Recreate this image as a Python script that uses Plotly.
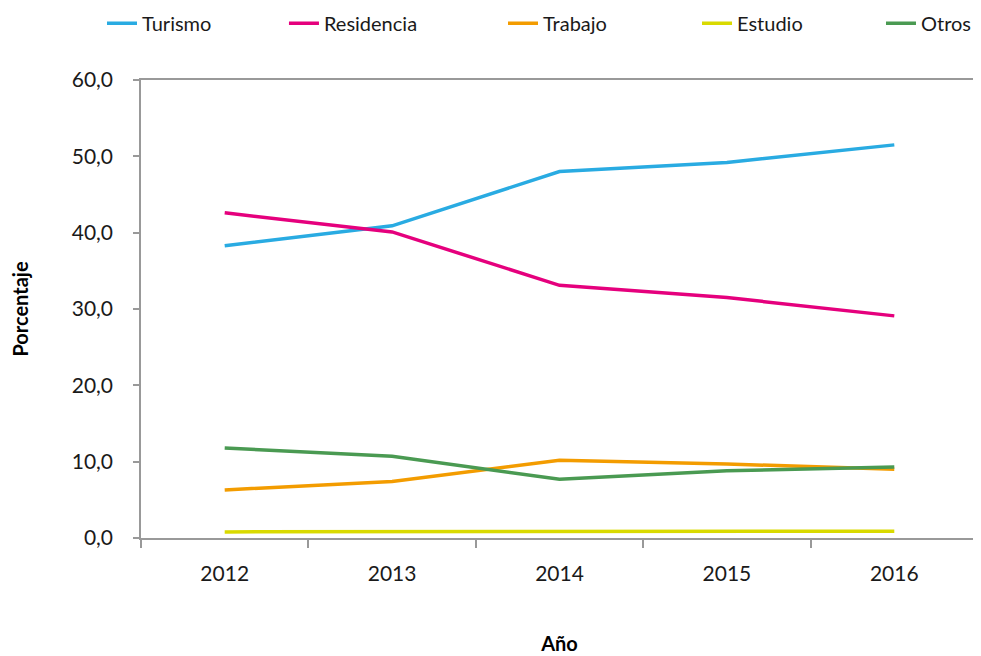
import plotly.graph_objects as go

years = ["2012", "2013", "2014", "2015", "2016"]
turismo = [38.3, 40.9, 48.0, 49.2, 51.5]
residencia = [42.6, 40.1, 33.1, 31.5, 29.1]
trabajo = [6.3, 7.4, 10.2, 9.7, 9.0]
estudio = [0.8, 0.8, 0.9, 0.9, 0.9]
otros = [11.8, 10.7, 7.7, 8.8, 9.3]

names = ["Turismo", "Residencia", "Trabajo", "Estudio", "Otros"]
series = [turismo, residencia, trabajo, estudio, otros]
colors = ["#29ABE2", "#E5007D", "#F39C00", "#D9DA00", "#4A9A52"]
legend_ids = ["legend", "legend2", "legend3", "legend4", "legend5"]
legend_x = [-0.0466, 0.1708, 0.4325, 0.6643, 0.8841]

FONT = "Lato, 'Open Sans', sans-serif"

fig = go.Figure()
for name, vals, col, lid in zip(names, series, colors, legend_ids):
    fig.add_trace(go.Scatter(
        x=years, y=vals, name=name, mode="lines",
        line=dict(color=col, width=3.5),
        legend=lid,
    ))

layout_legends = {}
for lid, lx in zip(legend_ids, legend_x):
    layout_legends[lid] = dict(
        x=lx, xanchor="left", y=1.124, yanchor="middle",
        orientation="h", bgcolor="rgba(0,0,0,0)",
        font=dict(family=FONT, size=20, color="#1a1a1a"),
    )

fig.update_layout(
    width=981, height=656,
    margin=dict(l=133, r=11, t=72, b=126, autoexpand=False),
    paper_bgcolor="white", plot_bgcolor="white",
    font=dict(family=FONT, size=20, color="#1a1a1a"),
    showlegend=True,
    xaxis=dict(
        type="category",
        range=[-0.5, 4.5],
        showline=True, linecolor="#999999", linewidth=1.5,
        mirror=True,
        ticks="outside", ticklen=8, tickcolor="#999999", tickwidth=1.5,
        tickson="boundaries",
        showgrid=False,
        ticklabelstandoff=16,
        tickfont=dict(family=FONT, size=21, color="#1a1a1a"),
        title=dict(text="<b>Año</b>", font=dict(family=FONT, size=20, color="#000"), standoff=53),
        automargin=False,
    ),
    yaxis=dict(
        range=[0, 60], tickvals=[0, 10, 20, 30, 40, 50, 60],
        ticktext=["0,0", "10,0", "20,0", "30,0", "40,0", "50,0", "60,0"],
        showline=True, linecolor="#999999", linewidth=1.5,
        ticks="outside", ticklen=6, tickcolor="#999999", tickwidth=1.5,
        showgrid=False, zeroline=False,
        ticklabelstandoff=16,
        tickfont=dict(family=FONT, size=21, color="#1a1a1a"),
        title=dict(text="<b>Porcentaje</b>", font=dict(family=FONT, size=20, color="#000"), standoff=40),
        automargin=False,
    ),
    **layout_legends,
)

fig.write_html("out.html")
